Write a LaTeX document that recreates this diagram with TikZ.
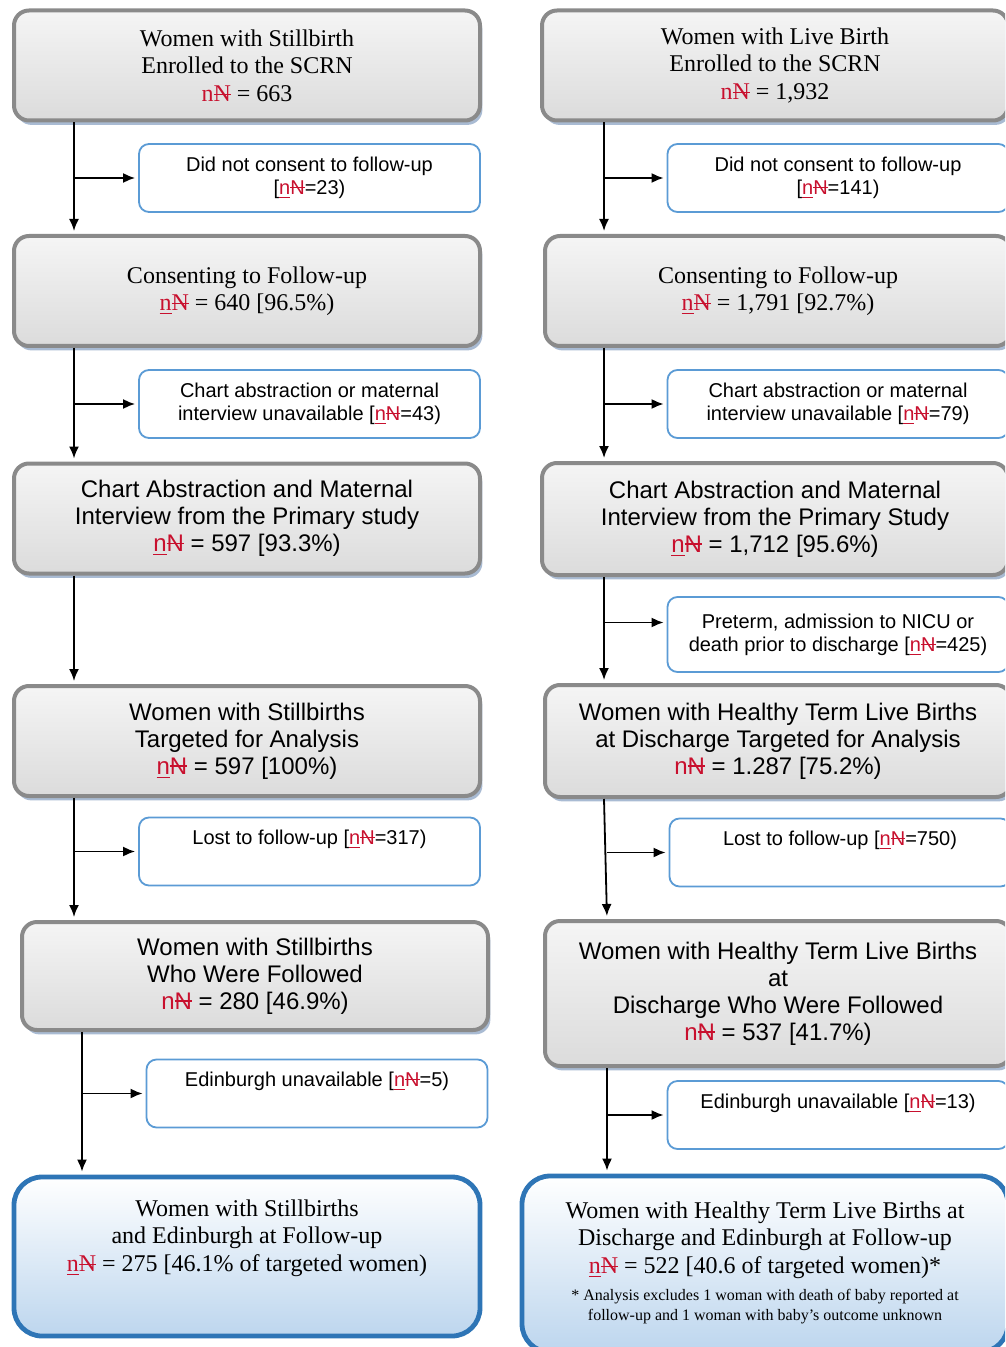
\documentclass[tikz,border=0pt]{standalone}
\usepackage{fontspec}
\setmainfont{Liberation Serif}
\setsansfont{Liberation Sans}
\usetikzlibrary{arrows.meta,shadows}
\definecolor{trackred}{RGB}{200,16,46}
\definecolor{boxgrey}{RGB}{138,138,138}
\definecolor{shadowblue}{RGB}{160,180,206}
\definecolor{sideblue}{RGB}{91,155,213}
\definecolor{finalblue}{RGB}{46,117,182}
\definecolor{finalfill}{RGB}{189,214,238}
\newcommand{\delN}{{\sbox0{N}\rlap{\usebox0}\rule[0.6ex]{\wd0}{0.09ex}}}
\newcommand{\nN}{\textcolor{trackred}{n\delN}}
\newcommand{\unN}{\textcolor{trackred}{\underline{n}\delN}}
\newcommand{\footsz}{\fontsize{8}{10}\selectfont}
\tikzset{
  stagebox/.style={rectangle,rounded corners=7.5pt,draw=boxgrey,line width=2pt,
    top color=gray!8,bottom color=gray!28,
    drop shadow={shadow xshift=1.2pt,shadow yshift=-2.2pt,fill=shadowblue,opacity=0.9},
    minimum width=233pt,minimum height=55pt,align=center,inner sep=2pt},
  serifbox/.style={stagebox,font=\fontsize{12}{13.75}\selectfont\rmfamily},
  sansbox/.style={stagebox,font=\fontsize{12}{13.5}\selectfont\sffamily},
  exclbox/.style={rectangle,rounded corners=5pt,draw=sideblue,line width=0.9pt,fill=white,
    minimum width=170.5pt,minimum height=34pt,align=center,inner sep=2pt,
    font=\fontsize{10}{11.5}\selectfont\sffamily},
  toptext/.style={text depth=14pt},
  finalbox/.style={rectangle,rounded corners=14pt,draw=finalblue,line width=2.4pt,
    top color=white,bottom color=finalfill,align=center,inner sep=2pt,
    font=\fontsize{12}{13.75}\selectfont\rmfamily},
  arr/.style={-{Latex[length=6pt,width=5pt]},line width=0.9pt,shorten >=1.5pt}
}
\begin{document}
\begin{tikzpicture}[x=0.5pt,y=-0.5pt]
\useasboundingbox (0,0) rectangle (1005,1347);
\clip (0,0) rectangle (1005,1347);

% stillbirth
\node[serifbox] (l1) at (247,65.5) {Women with Stillbirth\\ Enrolled to the SCRN\\ \nN{} = 663};
\node[exclbox] (l1s) at (309.5,178) {Did not consent to follow-up\\{[}\unN=23)};
\node[serifbox] (l2) at (247,291) {Consenting to Follow-up\\ \unN{} = 640 [96.5\%)};
\node[exclbox] (l2s) at (309.5,404) {Chart abstraction or maternal\\ interview unavailable [\unN=43)};
\node[sansbox] (l3) at (247,518.5) {Chart Abstraction and Maternal\\ Interview from the Primary study\\ \unN{} = 597 [93.3\%)};
\node[sansbox] (l4) at (247,741) {Women with Stillbirths\\ Targeted for Analysis\\ \unN{} = 597 [100\%)};
\node[exclbox,toptext] (l4s) at (309.5,851.5) {Lost to follow-up [\unN=317)};
\node[sansbox,minimum height=54pt] (l5) at (255,976) {Women with Stillbirths\\ Who Were Followed\\ \nN{} = 280 [46.9\%)};
\node[exclbox,toptext] (l5s) at (317,1093.5) {Edinburgh unavailable [\unN=5)};
\node[finalbox,minimum width=233pt,minimum height=79.5pt,text depth=21pt] (l6) at (247,1256.5)
  {Women with Stillbirths\\ and Edinburgh at Follow-up\\ \unN{} = 275 [46.1\% of targeted women)};

% live birth
\node[serifbox] (r1) at (775,65.5) {Women with Live Birth\\ Enrolled to the SCRN\\ \nN{} = 1,932};
\node[exclbox] (r1s) at (838,178) {Did not consent to follow-up\\{[}\unN=141)};
\node[serifbox] (r2) at (778,291) {Consenting to Follow-up\\ \unN{} = 1,791 [92.7\%)};
\node[exclbox] (r2s) at (838,404) {Chart abstraction or maternal\\ interview unavailable [\unN=79)};
\node[sansbox,minimum height=56pt] (r3) at (775,519) {Chart Abstraction and Maternal\\ Interview from the Primary Study\\ \unN{} = 1,712 [95.6\%)};
\node[exclbox,minimum height=37.5pt] (r3s) at (838,634.5) {Preterm, admission to NICU or\\ death prior to discharge [\unN=425)};
\node[sansbox,minimum height=56pt] (r4) at (778,741) {Women with Healthy Term Live Births\\ at Discharge Targeted for Analysis\\ \nN{} = 1.287 [75.2\%)};
\node[exclbox,toptext] (r4s) at (840,852.5) {Lost to follow-up [\unN=750)};
\node[sansbox,minimum height=72.5pt] (r5) at (778,993.5) {Women with Healthy Term Live Births\\ at\\ Discharge Who Were Followed\\ \nN{} = 537 [41.7\%)};
\node[exclbox,toptext] (r5s) at (838,1115) {Edinburgh unavailable [\unN=13)};
\node[finalbox,minimum width=243pt,minimum height=88pt] (r6) at (765,1264)
  {Women with Healthy Term Live Births at\\ Discharge and Edinburgh at Follow-up\\ \unN{} = 522 [40.6 of targeted women)*\\[3pt]
   {\footsz\begin{tabular}{@{}c@{}}* Analysis excludes 1 woman with death of baby reported at\\ follow-up and 1 woman with baby's outcome unknown\end{tabular}}};

\coordinate (la1) at ([xshift=31pt]l1.south west);
\coordinate (la2) at ([xshift=31pt]l2.south west);
\coordinate (la3) at ([xshift=31pt]l3.south west);
\coordinate (la4) at ([xshift=31pt]l4.south west);
\coordinate (la5) at ([xshift=31pt]l5.south west);
\draw[arr] (la1) -- (la1 |- l2.north);
\draw[arr] (la1 |- l1s.west) -- (l1s.west);
\draw[arr] (la2) -- (la2 |- l3.north);
\draw[arr] (la2 |- l2s.west) -- (l2s.west);
\draw[arr] (la3) -- (la3 |- l4.north);
\draw[arr] (la4) -- (la4 |- l5.north);
\draw[arr] (la4 |- l4s.west) -- (l4s.west);
\draw[arr] (la5) -- (la5 |- l6.north);
\draw[arr] (la5 |- l5s.west) -- (l5s.west);

\coordinate (ra1) at ([xshift=32pt]r1.south west);
\coordinate (ra2) at ([xshift=30.5pt]r2.south west);
\coordinate (ra3) at ([xshift=32pt]r3.south west);
\coordinate (ra4) at ([xshift=30.5pt]r4.south west);
\coordinate (ra5) at ([xshift=32pt]r5.south west);
\coordinate (r3in) at ([yshift=6pt]r3s.west);
\draw[arr] (ra1) -- (ra1 |- r2.north);
\draw[arr] (ra1 |- r1s.west) -- (r1s.west);
\draw[arr] (ra2) -- (ra2 |- r3.north);
\draw[arr] (ra2 |- r2s.west) -- (r2s.west);
\draw[arr] (ra3) -- (ra3 |- r4.north);
\draw[arr] (ra3 |- r3in) -- (r3in);
\draw[arr] (ra4) -- (ra5 |- r5.north);
\draw[arr] (ra5 |- r4s.west) -- (r4s.west);
\draw[arr] (ra5) -- (ra5 |- r6.north);
\draw[arr] (ra5 |- r5s.west) -- (r5s.west);
\end{tikzpicture}
\end{document}
